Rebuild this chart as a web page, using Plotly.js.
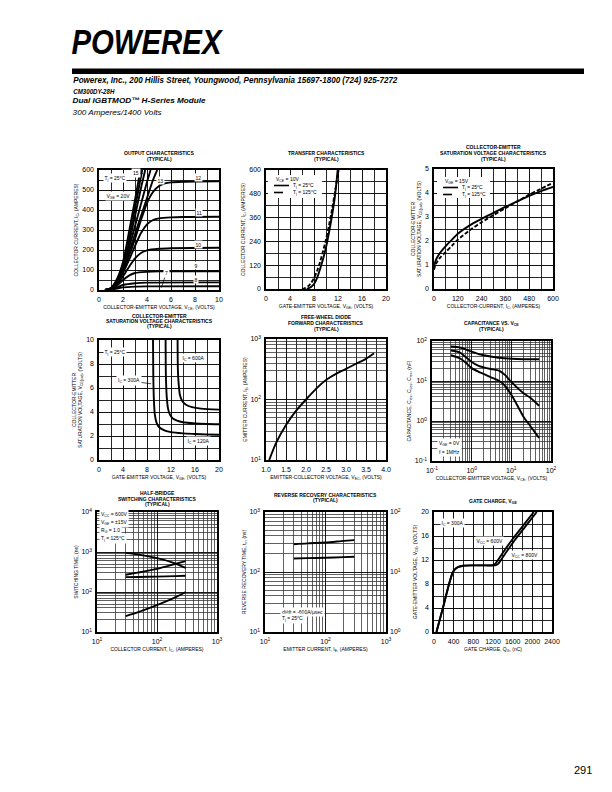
<!DOCTYPE html>
<html><head><meta charset="utf-8">
<script src="https://cdn.plot.ly/plotly-3.0.1.min.js"></script>
<style>body{margin:0;padding:0;background:#fff}#chart{width:612px;height:792px}</style>
</head><body><div id="chart"></div>
<script>
// ================= DATA =================
// 1. Output characteristics (VCE volts, IC amperes), one curve per VGE
const out20_vce=[0.5,1,1.5,2,2.5,3,3.45], out20_ic=[0,10,55,140,290,450,600];
const out17_vce=[0.5,1,1.5,2,2.5,3,3.6], out17_ic=[0,9,50,125,260,410,600];
const out15_vce=[0.5,1,1.5,2,2.5,3,3.5,3.85], out15_ic=[0,8,45,115,235,370,510,600];
const out14_vce=[0.5,1,1.5,2,2.5,3,3.5,4,4.3], out14_ic=[0,7,40,105,210,320,430,540,600];
const out13_vce=[0.5,1,1.5,2,2.5,3,3.5,4,4.5,4.85], out13_ic=[0,6,35,95,185,280,370,460,550,600];
const out12_vce=[0.5,1,1.5,2,2.5,3,3.5,4,4.5,5,5.5,6,7,8,10], out12_ic=[0,5,40,95,170,255,350,435,490,520,533,538,541,542,543];
const out11_vce=[0.5,1,1.5,2,2.5,3,3.5,4,4.5,5,6,7,10], out11_ic=[0,5,35,85,150,220,285,328,350,358,363,365,366];
const out10_vce=[0.5,1,1.5,2,2.5,3,3.5,4,5,6,10], out10_ic=[0,4,28,68,115,158,185,198,206,209,211];
const out9_vce=[0.5,1,1.5,2,2.5,3,4,5,10], out9_ic=[0,3,22,50,72,85,91,93,94];
const out8_vce=[0.5,1,1.5,2,3,4,10], out8_ic=[0,2,13,25,34,37,38];
const out7_vce=[0.5,1,1.5,2,3,4,10], out7_ic=[0,1,7,13,17,18,19];
// 2. Transfer characteristics (VGE volts, IC amperes)
const tr25_vge=[6.8,7.5,8,8.5,9,9.5,10,10.5,11,11.5,11.95], tr25_ic=[0,10,25,55,100,150,210,285,370,470,600];
const tr125_vge=[6.0,6.5,7,7.5,8,8.5,9,9.5,10,10.5,11,11.5,12.1], tr125_ic=[0,5,14,30,55,90,135,190,250,320,400,490,600];
// 3. VCE(sat) vs IC
const sat_ic=[0,5,15,30,60,90,120,180,240,300,360,420,480,540,600];
const sat25_v=[0.9,1.1,1.3,1.5,1.8,2.05,2.3,2.65,2.92,3.17,3.42,3.65,3.88,4.08,4.25];
const sat125_v=[0.8,0.95,1.12,1.3,1.55,1.8,2.05,2.45,2.78,3.08,3.37,3.65,3.93,4.18,4.42];
// 4. VCE(sat) vs VGE
const vg120_vge=[9.0,9.05,9.15,9.3,9.6,10,11,12,14,16,18,20], vg120_v=[10,7,5,3.8,3.1,2.75,2.45,2.32,2.22,2.17,2.13,2.1];
const vg300_vge=[11.1,11.15,11.3,11.5,11.8,12.3,13,14,16,18,20], vg300_v=[10,7,5.2,4.3,3.8,3.45,3.28,3.15,3.05,3.0,2.98];
const vg600_vge=[13.1,13.15,13.3,13.5,13.9,14.5,15.5,17,20], vg600_v=[10,7.5,6.2,5.4,4.9,4.6,4.4,4.28,4.2];
// 5. Free-wheel diode forward
const fwd_vec=[1.08,1.25,1.5,1.75,2.0,2.25,2.5,2.75,3.0,3.25,3.5,3.7];
const fwd_ie=[10,19,38,65,100,150,210,265,320,390,470,580];
// 6. Capacitance vs VCE (nF)
const cies_vce=[0.3,0.5,0.7,1,1.5,2,3,5,10,20,50], cies_nf=[73,69,62,54,47,44,41,38,36,35,35];
const coes_vce=[0.3,0.5,0.7,1,1.5,2,3,5,7,10,20,30,50], coes_nf=[58,52,40,30,24,22,20,18,14,9.5,5,3.8,2.4];
const cres_vce=[0.3,0.5,0.7,1,1.5,2,3,5,7,10,15,20,30,50], cres_nf=[44,37,29,21,17,15,12.5,10,7.5,4.5,2.2,1.3,0.75,0.38];
// 7. Switching times (ns) vs IC
const sw_ic=[30,50,100,200,300];
const sw_tdoff=[950,860,700,520,400];
const sw_tr=[270,310,380,500,590];
const sw_tdon=[235,238,243,250,255];
const sw_tf=[25,32,47,73,100];
// 8. Reverse recovery vs IE
const rr_ie=[30,50,100,200,300];
const rr_trr=[168,170,173,177,180];   // ns, left axis
const rr_irr=[29,30,31,33,34];        // A, right axis
// 9. Gate charge
const gc600_q=[50,200,300,370,420,500,600,800,1000,1200,1250,1400,1600,1800,2030];
const gc800_q=[50,200,300,370,420,500,600,800,1000,1260,1310,1460,1660,1860,2090];
const gc_v=[0,4.6,7.8,9.7,10.4,10.85,11.05,11.1,11.1,11.15,11.4,13.2,15.5,17.6,20];

// tick labels
const lin_ticks={
 1:{x:[0,2,4,6,8,10], y:[0,100,200,300,400,500,600]},
 2:{x:[0,4,8,12,16,20], y:[0,120,240,360,480,600]},
 3:{x:[0,120,240,360,480,600], y:[0,1,2,3,4,5]},
 4:{x:[0,4,8,12,16,20], y:[0,2,4,6,8,10]},
 5:{x:[1.0,1.5,2.0,2.5,3.0,3.5,4.0]},
 9:{x:[0,400,800,1200,1600,2000,2400], y:[0,4,8,12,16,20]}
};
const decade_labels={'-1':'10<sup>-1</sup>','0':'10<sup>0</sup>','1':'10<sup>1</sup>','2':'10<sup>2</sup>','3':'10<sup>3</sup>','4':'10<sup>4</sup>'};

// ================= LAYOUT HELPERS =================
const W=612,H=792;
const FONT='"Liberation Sans", Arial, Helvetica, sans-serif';
const LBL=5;  // small label size
const fx=p=>p/W, fy=p=>1-p/H;
const boxes={1:[99,219,170,290],2:[266,386,170,289],3:[434,553,169,289],
 4:[99,219,340,460],5:[266,386,339,460],6:[432,551,341,461],
 7:[97,217,512,632],8:[265,386,512,632],9:[434,552,512,632]};
const GRID='#111', MINOR='#3a3a3a';
const base={showline:true,mirror:true,linecolor:'#000',linewidth:1.6,showgrid:true,gridcolor:GRID,gridwidth:0.9,
 zeroline:false,ticks:'',tickfont:{family:FONT,size:7,color:'#000'},fixedrange:true,automargin:false};

function logMajor(lo,hi){const v=[],t=[];for(let e=lo;e<=hi;e++){v.push(Math.pow(10,e));t.push(decade_labels[String(e)]);}return {v:v,t:t};}

function mkAxis(n,dir,o){
 const b=boxes[n];
 const a=Object.assign({},base);
 if(dir==='x'){a.domain=[fx(b[0]),fx(b[1])];a.anchor='y'+(n===1?'':n);}
 else{a.domain=[fy(b[3]),fy(b[2])];a.anchor='x'+(n===1?'':n);}
 if(o.log){const g=logMajor(o.log[0],o.log[1]);a.type='log';a.range=[o.log[0],o.log[1]];a.tickmode='array';a.tickvals=g.v;a.ticktext=g.t;
   a.minor={dtick:'D1',showgrid:true,gridcolor:MINOR,gridwidth:0.8,ticks:''};}
 else{a.range=o.range;a.tickmode='array';a.tickvals=o.ticks;if(o.fmt)a.tickformat=o.fmt;
   a.minor={tickmode:'linear',tick0:o.range[0],dtick:o.minor,showgrid:true,gridcolor:GRID,gridwidth:0.9,ticks:''};}
 a.title={text:o.title,font:{family:FONT,size:5,color:'#000'},standoff:o.standoff||3};
 a.ticklabelstandoff=o.tls||2;
 return a;
}

const layout={width:W,height:H,margin:{l:0,r:0,t:0,b:0},paper_bgcolor:'#fff',plot_bgcolor:'#fff',showlegend:false,
 font:{family:FONT,color:'#000'},annotations:[],shapes:[]};

function setAx(n,xo,yo){layout['xaxis'+(n===1?'':n)]=mkAxis(n,'x',xo);layout['yaxis'+(n===1?'':n)]=mkAxis(n,'y',yo);}
setAx(1,{range:[0,10],ticks:lin_ticks[1].x,minor:1,title:'COLLECTOR-EMITTER VOLTAGE, V<sub>CE</sub>, (VOLTS)'},
        {range:[0,600],ticks:lin_ticks[1].y,minor:50,title:'COLLECTOR CURRENT, I<sub>C</sub>, (AMPERES)'});
setAx(2,{range:[0,20],ticks:lin_ticks[2].x,minor:2,title:'GATE-EMITTER VOLTAGE, V<sub>GE</sub>, (VOLTS)'},
        {range:[0,600],ticks:lin_ticks[2].y,minor:60,title:'COLLECTOR CURRENT, I<sub>C</sub>, (AMPERES)'});
setAx(3,{range:[0,600],ticks:lin_ticks[3].x,minor:60,title:'COLLECTOR-CURRENT, I<sub>C</sub>, (AMPERES)'},
        {range:[0,5],ticks:lin_ticks[3].y,minor:0.5,title:'COLLECTOR-EMITTER<br>SATURATION VOLTAGE, V<sub>CE(sat)</sub>, (VOLTS)'});
setAx(4,{range:[0,20],ticks:lin_ticks[4].x,minor:2,title:'GATE-EMITTER VOLTAGE, V<sub>GE</sub>, (VOLTS)'},
        {range:[0,10],ticks:lin_ticks[4].y,minor:1,title:'COLLECTOR-EMITTER<br>SATURATION VOLTAGE, V<sub>CE(sat)</sub>, (VOLTS)'});
setAx(5,{range:[1,4],ticks:lin_ticks[5].x,minor:0.25,fmt:'.1f',title:'EMITTER-COLLECTOR VOLTAGE, V<sub>EC</sub>, (VOLTS)'},
        {log:[1,3],title:'EMITTER CURRENT, I<sub>E</sub>, (AMPERES)'});
setAx(6,{log:[-1,2],title:'COLLECTOR-EMITTER VOLTAGE, V<sub>CE</sub>, (VOLTS)'},
        {log:[-1,2],title:'CAPACITANCE, C<sub>ies</sub>, C<sub>oes</sub>, C<sub>res</sub>, (nF)'});
setAx(7,{log:[1,3],title:'COLLECTOR CURRENT, I<sub>C</sub>, (AMPERES)'},
        {log:[1,4],title:'SWITCHING TIME, (ns)'});
setAx(8,{log:[1,3],title:'EMITTER CURRENT, I<sub>E</sub>, (AMPERES)'},
        {log:[1,3],title:'REVERSE RECOVERY TIME, t<sub>rr</sub>, (ns)'});
setAx(9,{range:[0,2400],ticks:lin_ticks[9].x,minor:200,title:'GATE CHARGE, Q<sub>G</sub>, (nC)'},
        {range:[0,20],ticks:lin_ticks[9].y,minor:2,title:'GATE-EMITTER VOLTAGE, V<sub>GE</sub>, (VOLTS)'});
layout.yaxis10={type:'log',range:[0,2],overlaying:'y8',anchor:'x8',side:'right',showgrid:false,zeroline:false,showline:false,
 tickmode:'array',tickvals:[1,10,100],ticktext:[decade_labels['0'],decade_labels['1'],decade_labels['2']],
 tickfont:{family:FONT,size:7,color:'#000'},ticks:'',fixedrange:true,ticklabelstandoff:3};

// ================= TRACES =================
const traces=[];
function line(n,x,y,dash,yax){traces.push({type:'scatter',mode:'lines',x:x,y:y,xaxis:'x'+(n===1?'':n),yaxis:yax||('y'+(n===1?'':n)),
 line:{color:'#000',width:1.9,dash:dash||'solid',shape:'spline',smoothing:0.7},hoverinfo:'skip',showlegend:false});}
[[out20_vce,out20_ic],[out17_vce,out17_ic],[out15_vce,out15_ic],[out14_vce,out14_ic],[out13_vce,out13_ic],
 [out12_vce,out12_ic],[out11_vce,out11_ic],[out10_vce,out10_ic],[out9_vce,out9_ic],[out8_vce,out8_ic],[out7_vce,out7_ic]]
 .forEach(c=>line(1,c[0],c[1]));
line(2,tr25_vge,tr25_ic); line(2,tr125_vge,tr125_ic,'4px,2px');
line(3,sat_ic,sat25_v); line(3,sat_ic,sat125_v,'4px,2px');
line(4,vg120_vge,vg120_v); line(4,vg300_vge,vg300_v); line(4,vg600_vge,vg600_v);
line(5,fwd_vec,fwd_ie);
line(6,cies_vce,cies_nf); line(6,coes_vce,coes_nf); line(6,cres_vce,cres_nf);
line(7,sw_ic,sw_tdoff); line(7,sw_ic,sw_tr); line(7,sw_ic,sw_tdon); line(7,sw_ic,sw_tf);
line(8,rr_ie,rr_trr); line(8,rr_ie,rr_irr,null,'y10');
line(9,gc600_q,gc_v); line(9,gc800_q,gc_v);

// ================= ANNOTATIONS =================
const A=layout.annotations;
const squeeze=[]; // [annotation index, target width px]
function ptxt(px,py,text,size,opts){A.push(Object.assign({xref:'paper',yref:'paper',x:fx(px),y:fy(py),text:text,showarrow:false,
 xanchor:'left',yanchor:'middle',font:{family:FONT,size:size,color:'#000'}},opts||{}));}
function dtxt(n,x,y,text,opts){A.push(Object.assign({xref:'x'+(n===1?'':n),yref:'y'+(n===1?'':n),x:x,y:y,text:text,showarrow:false,
 font:{family:FONT,size:LBL,color:'#000'},bgcolor:'#fff',borderpad:0.5},opts||{}));}
// header text centred on its span, then squeezed to the span's width (condensed face)
function htxt(x0,x1,py,text,size,weight,style){
 A.push({xref:'paper',yref:'paper',x:fx((x0+x1)/2),y:fy(py),xanchor:'center',yanchor:'middle',text:text,showarrow:false,
  font:{family:FONT,size:size,color:'#000',weight:weight,style:style}});
 squeeze.push([A.length-1,x1-x0]);
}
htxt(73,223,41,'POWEREX',35,'bold','italic');
layout.shapes.push({type:'rect',xref:'paper',yref:'paper',x0:fx(72),x1:fx(584),y0:fy(74),y1:fy(68.5),fillcolor:'#000',line:{width:0}});
htxt(73,397,80,'Powerex, Inc., 200 Hillis Street, Youngwood, Pennsylvania 15697-1800 (724) 925-7272',9,'bold','italic');
htxt(73,114,91,'CM300DY-28H',8,'bold','italic');
htxt(73,206,100.5,'Dual IGBTMOD™ H-Series Module',8,'bold','italic');
htxt(73,162,112.5,'300 Amperes/1400 Volts',7,'normal','italic');
ptxt(594,770,'291',11,{xanchor:'right',font:{family:FONT,size:11,color:'#000'}});

// chart titles, one annotation per line
function title(n,lines){const b=boxes[n];lines.forEach(l=>A.push({xref:'paper',yref:'paper',x:fx((b[0]+b[1])/2),y:fy(l[0]),xanchor:'center',yanchor:'middle',
 text:l[1],showarrow:false,font:{family:FONT,size:LBL,color:'#000',weight:'bold'}}));}
title(1,[[153.3,'OUTPUT CHARACTERISTICS'],[158.6,'(TYPICAL)']]);
title(2,[[153.3,'TRANSFER CHARACTERISTICS'],[158.6,'(TYPICAL)']]);
title(3,[[147,'COLLECTOR-EMITTER'],[153.3,'SATURATION VOLTAGE CHARACTERISTICS'],[158.8,'(TYPICAL)']]);
title(4,[[315.5,'COLLECTOR-EMITTER'],[321,'SATURATION VOLTAGE CHARACTERISTICS'],[326.5,'(TYPICAL)']]);
title(5,[[317,'FREE-WHEEL DIODE'],[322.8,'FORWARD CHARACTERISTICS'],[328.5,'(TYPICAL)']]);
title(6,[[323.5,'CAPACITANCE VS. V<sub>CE</sub>'],[329.3,'(TYPICAL)']]);
title(7,[[493.5,'HALF-BRIDGE'],[498.8,'SWITCHING CHARACTERISTICS'],[503.5,'(TYPICAL)']]);
title(8,[[495,'REVERSE RECOVERY CHARACTERISTICS'],[499.8,'(TYPICAL)']]);
title(9,[[501.5,'GATE CHARGE, V<sub>GE</sub>']]);

// plot 1 labels
dtxt(1,0.3,560,'T<sub>j</sub> = 25°C',{xanchor:'left'});
dtxt(1,0.5,468,'V<sub>GE</sub> = 20V',{xanchor:'left'});
dtxt(1,8.3,562,'12'); dtxt(1,8.3,387,'11'); dtxt(1,8.3,230,'10'); dtxt(1,8.1,125,'9'); dtxt(1,8.1,55,'8');
A.push({xref:'x',yref:'y',axref:'x',ayref:'y',x:5.2,y:12,ax:5.6,ay:85,text:'7',showarrow:true,arrowhead:0,arrowwidth:0.7,arrowcolor:'#000',
 font:{family:FONT,size:LBL,color:'#000'},bgcolor:'#fff'});
A.push({xref:'x',yref:'y',axref:'x',ayref:'y',x:3.65,y:583,ax:3.05,ay:583,text:'15',showarrow:true,arrowhead:0,arrowwidth:0.7,arrowcolor:'#000',
 font:{family:FONT,size:LBL,color:'#000'},bgcolor:'#fff'});
dtxt(1,5.1,550,'13');

// legends drawn by hand (short line samples)
function legend(x0,x1,y0,y1,head,items){
 layout.shapes.push({type:'rect',xref:'paper',yref:'paper',x0:fx(x0),x1:fx(x1),y0:fy(y1),y1:fy(y0),fillcolor:'#fff',line:{width:0},layer:'above'});
 ptxt(x0+6,y0+4.5,head,LBL);
 items.forEach((it,i)=>{const yy=y0+10.5+i*7;
  layout.shapes.push({type:'line',xref:'paper',yref:'paper',x0:fx(x0+6),x1:fx(x0+21),y0:fy(yy),y1:fy(yy),line:{color:'#000',width:1.6,dash:it[0]},layer:'above'});
  ptxt(x0+23,yy,it[1],LBL);});
}
legend(268,322,175,198,'V<sub>CE</sub> = 10V',[['solid','T<sub>j</sub> = 25°C'],['dash','T<sub>j</sub> = 125°C']]);
legend(437,490,177,198,'V<sub>GE</sub> = 15V',[['solid','T<sub>j</sub> = 25°C'],['dash','T<sub>j</sub> = 125°C']]);

// plot 4 labels
dtxt(4,0.7,9.0,'T<sub>j</sub> = 25°C',{xanchor:'left'});
dtxt(4,15.7,8.5,'I<sub>C</sub> = 600A');
dtxt(4,16.6,1.6,'I<sub>C</sub> = 120A');
A.push({xref:'x4',yref:'y4',axref:'x4',ayref:'y4',x:8.7,y:6.35,ax:5.0,ay:6.6,text:'I<sub>C</sub> = 300A',showarrow:true,arrowhead:0,arrowwidth:0.7,
 arrowcolor:'#000',font:{family:FONT,size:LBL,color:'#000'},bgcolor:'#fff'});

// plot 5
dtxt(5,1.08,560,'T<sub>j</sub> = 25°C',{xanchor:'left'});

// plot 6
dtxt(6,40,47,'C<sub>ies</sub>'); dtxt(6,40,5.3,'C<sub>oes</sub>'); dtxt(6,32,1.0,'C<sub>res</sub>');
ptxt(437,443.5,'V<sub>GE</sub> = 0V',LBL,{bgcolor:'#fff'});
ptxt(437,451.5,'f = 1MHz',LBL,{bgcolor:'#fff'});

// plot 7
ptxt(99,514,'V<sub>CC</sub> = 600V',LBL,{bgcolor:'#fff'});
ptxt(99,522,'V<sub>GE</sub> = ±15V',LBL,{bgcolor:'#fff'});
ptxt(99,530,'R<sub>G</sub> = 1.0',LBL,{bgcolor:'#fff'});
ptxt(99,538,'T<sub>j</sub> = 125°C',LBL,{bgcolor:'#fff'});
dtxt(7,166,1200,'t<sub>d(off)</sub>'); dtxt(7,360,650,'t<sub>r</sub>'); dtxt(7,440,245,'t<sub>d(on)</sub>'); dtxt(7,365,118,'t<sub>f</sub>');

// plot 8
dtxt(8,345,340,'I<sub>rr</sub>'); dtxt(8,345,200,'t<sub>rr</sub>');
ptxt(280,611.5,'di/dt = -600A/μsec',LBL,{bgcolor:'#fff'});
ptxt(280,618.5,'T<sub>j</sub> = 25°C',LBL,{bgcolor:'#fff'});

// plot 9
dtxt(9,120,18.2,'I<sub>C</sub> = 300A',{xanchor:'left'});
dtxt(9,1119,15.2,'V<sub>CC</sub> = 600V');
dtxt(9,1850,12.9,'V<sub>CC</sub> = 800V');

Plotly.newPlot('chart',traces,layout,{staticPlot:true,displayModeBar:false}).then(gd=>{
 squeeze.forEach(([i,w])=>{
  const t=gd.querySelector('g.annotation[data-index="'+i+'"] text.annotation-text');
  if(t){t.setAttribute('textLength',w);t.setAttribute('lengthAdjust','spacingAndGlyphs');}
 });
 // give every text run an explicit pixel size (sub/superscript runs inherit a relative one)
 gd.querySelectorAll('svg text, svg tspan').forEach(el=>{
  const fs=window.getComputedStyle(el).fontSize;
  if(fs) el.style.fontSize=fs;
 });
});
</script></body></html>
